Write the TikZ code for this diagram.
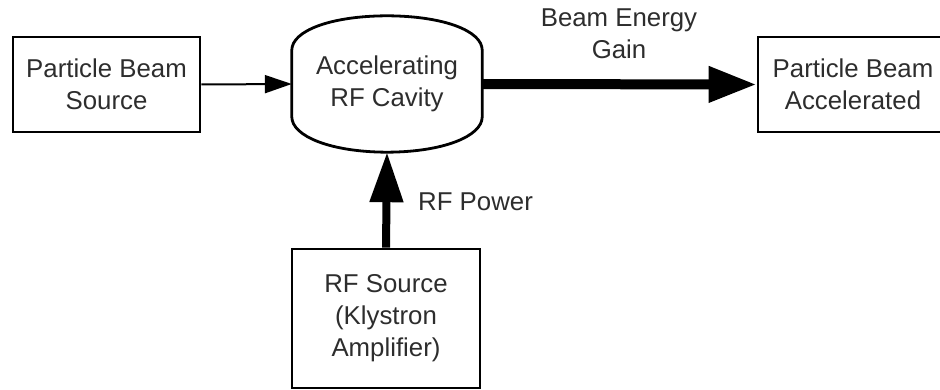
\documentclass[tikz,border=0pt]{standalone}
\usepackage{fontspec}
\setmainfont{Liberation Sans}
\usetikzlibrary{arrows.meta}
\definecolor{txt}{RGB}{45,45,45}
\begin{document}
\begin{tikzpicture}[x=1pt,y=-1pt,
  every node/.style={font=\fontsize{25.8}{32}\selectfont, text=txt, align=center, inner sep=0pt},
  blockbox/.style={draw=black, line width=2.8pt, minimum width=#1, rectangle},
  thinarrow/.style={line width=2pt, -{Triangle[length=27pt,width=18pt]}}
]
\useasboundingbox (0,0) rectangle (940,390);
\node[blockbox=187pt, minimum height=95pt] (src) at (106.5,84.5) {Particle Beam\\Source};
\node[minimum width=190pt, minimum height=136pt] (cav) at (387,84) {Accelerating\\RF Cavity};
\draw[line width=2.8pt] (cav.west|-0,50) -- (cav.west|-0,117)
  .. controls (292,136) and (330,152) .. (cav.south)
  .. controls (444,152) and (482,136) .. (cav.east|-0,117)
  -- (cav.east|-0,50)
  .. controls (482,31) and (444,16) .. (cav.north)
  .. controls (330,16) and (292,31) .. (cav.west|-0,50) -- cycle;
\node[blockbox=194pt, minimum height=95pt] (acc) at (855,84.5) {};
\node at (853,84.5) {Particle Beam\\Accelerated};
\node[blockbox=188pt, minimum height=139pt] (rf) at (386,318.5) {RF Source\\(Klystron\\Amplifier)};
\node (gain) at (619,34) {Beam Energy\\Gain};
\node[anchor=west] (pow) at (418,202) {RF Power};
\draw[thinarrow] (src.east) -- (cav.west);
\draw[line width=10pt, -{Triangle[length=48pt,width=34pt]}] (cav.east) -- (acc.west);
\draw[line width=8pt, -{Triangle[length=50pt,width=32pt]}] (rf.north) -- (cav.south);
\end{tikzpicture}
\end{document}
